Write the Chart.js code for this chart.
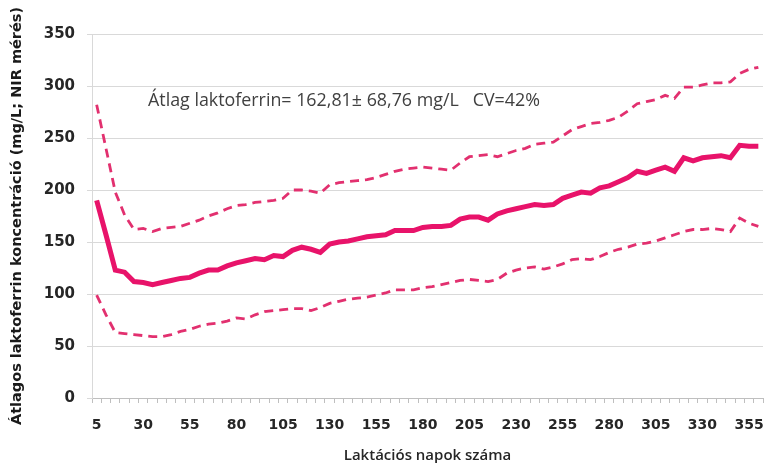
<!DOCTYPE html>
<html>
<head>
<meta charset="utf-8">
<script src="https://cdn.jsdelivr.net/npm/chart.js@4/dist/chart.umd.min.js"></script>
<style>
  html, body { margin: 0; padding: 0; background: #fff; }
  #wrap { width: 778px; height: 466px; }
</style>
</head>
<body>
<div id="wrap"><canvas id="lfChart" width="778" height="466"></canvas></div>
<script>
// Laktációs napok (5 naponta)
const days = [];
for (let d = 5; d <= 360; d += 5) days.push(d);

// Átlagos laktoferrin (mg/L)
const meanValues = [
    190, 157, 123, 121, 112, 111, 109, 111, 113, 115,
    116, 120, 123, 123, 127, 130, 132, 134, 133, 137,
    136, 142, 145, 143, 140, 148, 150, 151, 153, 155,
    156, 157, 161, 161, 161, 164, 165, 165, 166, 172,
    174, 174, 171, 177, 180, 182, 184, 186, 185, 186,
    192, 195, 198, 197, 202, 204, 208, 212, 218, 216,
    219, 222, 218, 231, 228, 231, 232, 233, 231, 243,
    242, 242
];

// Felső határ (átlag + szórás)
const upperValues = [
    282, 240, 198, 176, 162, 163, 160, 163, 164, 165,
    168, 171, 175, 178, 182, 185, 186, 188, 189, 190,
    192, 200, 200, 199, 197, 205, 207, 208, 209, 210,
    212, 215, 218, 220, 221, 222, 221, 220, 219, 226,
    232, 233, 234, 232, 235, 238, 240, 244, 245, 246,
    252, 258, 261, 264, 265, 267, 270, 276, 283, 285,
    287, 291, 288, 299, 299, 301, 303, 303, 304, 312,
    316, 318
];

// Alsó határ (átlag - szórás)
const lowerValues = [
    99, 80, 63, 62, 61, 60, 59, 59, 61, 64,
    66, 69, 71, 72, 74, 77, 76, 80, 83, 84,
    85, 86, 86, 84, 87, 91, 93, 95, 96, 97,
    99, 101, 104, 104, 104, 106, 107, 109, 111, 113,
    114, 113, 112, 114, 120, 123, 125, 126, 124, 126,
    129, 133, 134, 133, 136, 140, 143, 145, 148, 149,
    151, 154, 157, 160, 162, 162, 163, 162, 160, 173,
    168, 165
];

const yTicks = [0, 50, 100, 150, 200, 250, 300, 350];
const annotationText = 'Átlag laktoferrin= 162,81± 68,76 mg/L   CV=42%';

const pink = '#e8136a';
const pinkDash = '#e2306f';

// Felirat a diagram területén
const annotationPlugin = {
    id: 'annotation',
    afterDatasetsDraw(chart) {
        const ctx = chart.ctx;
        const area = chart.chartArea;
        const yPix = chart.scales.y.getPixelForValue(286);
        ctx.save();
        ctx.font = '15px "Open Sans", sans-serif';
        const w = ctx.measureText(annotationText).width;
        const size = 15 * 392 / w;
        ctx.font = size.toFixed(2) + 'px "Open Sans", sans-serif';
        ctx.fillStyle = '#404040';
        ctx.textBaseline = 'middle';
        ctx.textAlign = 'left';
        ctx.fillText(annotationText, area.left + 56, yPix);
        ctx.restore();
    }
};

new Chart(document.getElementById('lfChart').getContext('2d'), {
    type: 'line',
    data: {
        labels: days,
        datasets: [{
            label: 'Átlag',
            data: meanValues,
            borderColor: pink,
            borderWidth: 5,
            pointRadius: 0,
            tension: 0,
            order: 0
        }, {
            label: 'Felső',
            data: upperValues,
            borderColor: pinkDash,
            borderWidth: 2.8,
            borderDash: [9, 6],
            pointRadius: 0,
            tension: 0,
            order: 1
        }, {
            label: 'Alsó',
            data: lowerValues,
            borderColor: pinkDash,
            borderWidth: 2.8,
            borderDash: [9, 6],
            pointRadius: 0,
            tension: 0,
            order: 1
        }]
    },
    options: {
        responsive: false,
        animation: false,
        layout: { padding: { left: 0, right: 15, top: 34, bottom: 0 } },
        plugins: {
            legend: { display: false },
            tooltip: { enabled: false }
        },
        scales: {
            x: {
                type: 'category',
                offset: true,
                grid: {
                    offset: true,
                    drawOnChartArea: false,
                    drawTicks: true,
                    tickLength: 5,
                    color: '#bfbfbf'
                },
                border: { display: true, color: '#bfbfbf' },
                ticks: {
                    autoSkip: false,
                    maxRotation: 0,
                    minRotation: 0,
                    padding: 14,
                    color: '#262626',
                    font: { family: '"DejaVu Sans", sans-serif', size: 14, weight: 'bold' },
                    callback: function (value, index) {
                        return index % 5 === 0 ? days[index] : '';
                    }
                },
                title: {
                    display: true,
                    text: 'Laktációs napok száma',
                    color: '#262626',
                    font: { family: '"Open Sans", sans-serif', size: 15, weight: '600' },
                    padding: { top: 0, bottom: 1 }
                },
                afterFit: function (scale) { scale.height = 68; }
            },
            y: {
                min: 0,
                max: 350,
                afterBuildTicks: function (scale) {
                    scale.ticks = yTicks.map(v => ({ value: v }));
                },
                grid: {
                    color: '#d9d9d9',
                    tickLength: 5,
                    drawTicks: true
                },
                border: { display: true, color: '#d9d9d9' },
                ticks: {
                    padding: 12,
                    color: '#262626',
                    font: { family: '"DejaVu Sans", sans-serif', size: 15, weight: 'bold' }
                },
                title: {
                    display: true,
                    text: 'Átlagos laktoferrin koncentráció (mg/L; NIR mérés)',
                    color: '#1a1a1a',
                    font: { family: '"DejaVu Sans", sans-serif', size: 14.5, weight: 'bold' },
                    padding: { top: 9, bottom: 4 }
                },
                afterFit: function (scale) { scale.width = 92; }
            }
        }
    },
    plugins: [annotationPlugin]
});
</script>
</body>
</html>
